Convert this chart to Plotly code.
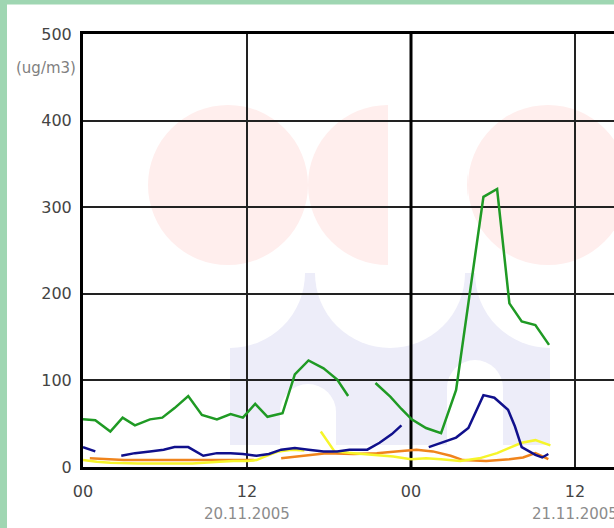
import plotly.graph_objects as go

# ---- data (hours since 20.11.2005 00:00, concentration in ug/m3) ----
green_h = [0, 0.9, 2, 2.9, 3.8, 4.9, 5.8, 6.7, 7.7, 8.7, 9.8, 10.8, 11.7, 12.6, 13.5,
           14.6, 15.5, 16.5, 17.6, 18.6, 19.4, None,
           21.4, 22.5, 23.3, 24.05, 25.1, 26.2, 27.3, 28.3, 29.3, 30.3, 31.2, 32.1, 33.1, 34.1]
green_v = [55, 54, 41, 57, 48, 55, 57, 68, 82, 60, 55, 61, 57, 73, 58,
           62, 107, 123, 114, 101, 82, None,
           97, 81, 67, 55, 45, 39, 89, 200, 312, 321, 189, 168, 164, 141]

blue_h = [0, 0.9, None,
          2.8, 3.8, 4.9, 5.9, 6.7, 7.7, 8.8, 9.8, 10.8, 11.7, 12.7, 13.6, 14.5, 15.5,
          16.5, 17.6, 18.6, 19.5, 20.8, 21.7, 22.6, 23.3, None,
          25.3, 26.2, 27.3, 28.2, 29.3, 30.1, 31.1, 31.6, 32.1, 33.1, 33.6, 34.05]
blue_v = [23, 18, None,
          13, 16, 18, 20, 23, 23, 13, 16, 16, 15, 13, 15, 20, 22,
          20, 18, 18, 20, 20, 28, 38, 48, None,
          23, 28, 34, 45, 83, 80, 66, 47, 23, 14, 11, 15]

yellow_h = [0, 1, 2, 4, 6, 8, 10, 11, 12, 12.7, 13.3, 14.3, 15.3, 16.2, None,
            17.4, 18.4, 19.8, 21.3, 22.7, 24, 25.1, 26.2, 27.6, 29, 30.3, 31.2, 32.1, 33.1, 34.2]
yellow_v = [8, 6, 5, 4, 4, 4, 6, 7, 7, 8, 12, 18, 20, 19, None,
            41, 18, 16, 14, 12, 9, 10, 9, 7, 10, 16, 22, 28, 31, 25]

orange_h = [0.5, 1.5, 3, 5, 7, 9, 11, 12.5, None,
            14.5, 16.1, 17.8, 19.8, 21.5, 22.9, 24.4, 25.6, 26.9, 27.8, 29.5, 31.2, 32.2, 33.1, 34.05]
orange_v = [10, 9, 8, 8, 8, 8, 8, 8, None,
            10, 13, 16, 15, 16, 18, 20, 18, 13, 8, 7, 9, 11, 16, 9]

x_tick_vals = [0, 12, 24, 36]
x_tick_text = ["00", "12", "00", "12"]
date_pos = [12, 36]
date_text = ["20.11.2005", "21.11.2005"]
y_ticks = [0, 100, 200, 300, 400, 500]
unit_label = "(ug/m3)"

# ---- geometry helpers (pixel -> data) for the background decoration ----
W, H = 614, 528
L, T, B = 83, 34, 467
PX_PER_H = 164 / 12
PX_PER_U = (B - T) / 500
X_MAX = (W - L) / PX_PER_H

def hx(px):
    return (px - L) / PX_PER_H

def vy(py):
    return (B - py) / PX_PER_U

def paper_x(px):
    return (px - L) / (W - L)

def paper_y(py):
    return (B - py) / (B - T)

RED = "#ffeeed"
BLUE = "#ededf9"
WHITE = "#ffffff"
FRAME = "#9fd6b2"

shapes = []

def rect(x0, y0, x1, y1, color, layer="below"):
    shapes.append(dict(type="rect", xref="x", yref="y", x0=hx(x0), x1=hx(x1),
                       y0=vy(y1), y1=vy(y0), fillcolor=color, line_width=0, layer=layer))

def circ(cx, cy, r, color, layer="below"):
    shapes.append(dict(type="circle", xref="x", yref="y", x0=hx(cx - r), x1=hx(cx + r),
                       y0=vy(cy + r), y1=vy(cy - r), fillcolor=color, line_width=0, layer=layer))

# blue lower block with scalloped top and white arches
rect(230, 273, 550, 445, BLUE)
for cx in (230, 390, 550):
    circ(cx, 273, 75, WHITE)
circ(308, 412, 28, WHITE)
rect(280, 412, 336, 450, WHITE)
circ(475, 388, 28, WHITE)
rect(447, 388, 503, 450, WHITE)
# red circles (middle one is a left half-disc)
circ(228, 185, 80, RED)
circ(388, 185, 80, RED)
rect(388, 100, 467, 270, WHITE)
circ(548, 185, 80, RED)

# midnight separator (thicker)
shapes.append(dict(type="line", xref="x", yref="y", x0=24, x1=24, y0=0, y1=500,
                   line=dict(color="#000000", width=3), layer="between"))

# green frame: left strip and top strip, drawn above everything
shapes.append(dict(type="rect", xref="paper", yref="paper",
                   x0=paper_x(-5), x1=paper_x(7), y0=paper_y(H + 5), y1=paper_y(-5),
                   fillcolor=FRAME, line_width=0, layer="above"))
shapes.append(dict(type="rect", xref="paper", yref="paper",
                   x0=paper_x(-5), x1=paper_x(W + 5), y0=paper_y(4.5), y1=paper_y(-5),
                   fillcolor=FRAME, line_width=0, layer="above"))

fig = go.Figure()
for xs, ys, col in [(orange_h, orange_v, "#f0841c"),
                    (yellow_h, yellow_v, "#f6f52a"),
                    (blue_h, blue_v, "#10108c"),
                    (green_h, green_v, "#1f9a24")]:
    fig.add_trace(go.Scatter(x=xs, y=ys, mode="lines", connectgaps=False,
                             line=dict(color=col, width=2.5), hoverinfo="skip",
                             showlegend=False))

FONT = "DejaVu Sans"
annotations = [dict(text=unit_label, xref="paper", x=0, xanchor="right", xshift=-5,
                    yref="y", y=vy(68), yanchor="middle", showarrow=False,
                    font=dict(family=FONT, size=15, color="#808080"))]
for xp, t in zip(date_pos, date_text):
    annotations.append(dict(text=t, xref="x", x=xp, xanchor="center", yref="paper", y=0,
                            yanchor="middle", yshift=-47, showarrow=False,
                            font=dict(family=FONT, size=15, color="#8c8c8c")))

fig.update_layout(
    width=W, height=H,
    margin=dict(l=L, r=0, t=T, b=H - B, pad=0),
    paper_bgcolor=WHITE, plot_bgcolor=WHITE,
    shapes=shapes, annotations=annotations,
    xaxis=dict(range=[0, X_MAX], tickvals=x_tick_vals, ticktext=x_tick_text,
               showgrid=True, gridcolor="#222222", gridwidth=2,
               showline=True, linecolor="#000000", linewidth=3, mirror=True,
               ticks="", ticklabelstandoff=8, zeroline=False,
               tickfont=dict(family=FONT, size=16, color="#444444")),
    yaxis=dict(range=[0, 500], tickvals=y_ticks,
               showgrid=True, gridcolor="#222222", gridwidth=1.5,
               showline=True, linecolor="#000000", linewidth=3,
               ticks="", ticklabelstandoff=5, zeroline=False,
               tickfont=dict(family=FONT, size=16, color="#444444")),
)

fig.write_html("out.html", config={"displayModeBar": False},
               post_script="document.body.style.margin='0';"
                           "document.body.style.overflow='hidden';"
                           "document.body.style.background='#ffffff';"
                           "window.scrollTo(0,0);")
